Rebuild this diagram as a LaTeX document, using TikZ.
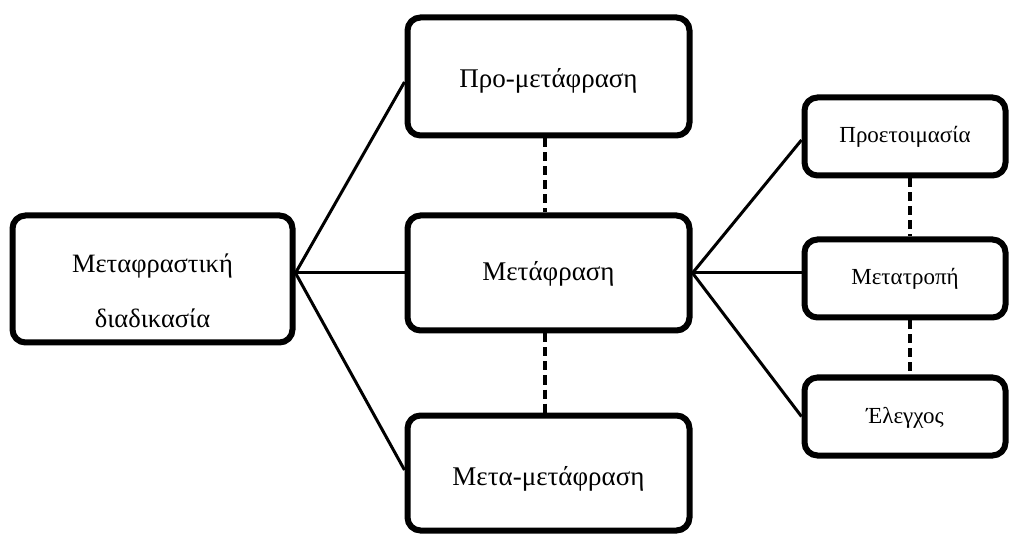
\documentclass[tikz,border=0pt]{standalone}
\usepackage{fontspec}
\setmainfont{Liberation Serif}
\begin{document}
\begin{tikzpicture}[x=1pt,y=-1pt,
  box/.style={draw=black,line width=6pt,rounded corners=13pt,fill=white,inner sep=0pt,align=center},
  bigbox/.style={box,minimum width=282pt,font=\fontsize{27}{32}\selectfont},
  smallbox/.style={box,minimum width=201pt,minimum height=78pt,font=\fontsize{23}{27}\selectfont,text height=13pt,text depth=0pt},
  conn/.style={line width=3pt},
  dashconn/.style={line width=4pt,dash pattern=on 9pt off 5pt}
]
\useasboundingbox (0,0) rectangle (1009,534);
\node[box,minimum width=280pt,minimum height=127pt,font=\fontsize{26.5}{55}\selectfont,text height=98pt,text depth=0pt] (L) at (152.5,279) {Μεταφραστική\\διαδικασία};
\node[bigbox,minimum height=118pt,text height=23pt,text depth=0pt] (P) at (548.5,76.5) {Προ-μετάφραση};
\node[bigbox,minimum height=115pt,text height=16pt,text depth=0pt] (M) at (548.5,273) {Μετάφραση};
\node[bigbox,minimum height=115pt,text height=24pt,text depth=0pt] (B) at (548.5,473) {Μετα-μετάφραση};
\node[smallbox] (R1) at (905,136.5) {Προετοιμασία};
\node[smallbox] (R2) at (905,278.5) {Μετατροπή};
\node[smallbox] (R3) at (905,416.5) {Έλεγχος};
\draw[conn] ([yshift=6pt]L.east) -- ([yshift=-5.5pt]P.west);
\draw[conn] ([yshift=6pt]L.east) -- (M.west);
\draw[conn] ([yshift=6pt]L.east) -- ([yshift=3pt]B.west);
\draw[conn] (M.east) -- ([yshift=-3.5pt]R1.west);
\draw[conn] (M.east) -- ([yshift=5.5pt]R2.west);
\draw[conn] (M.east) -- (R3.west);
\draw[dashconn] ([xshift=-3.5pt]P.south) -- ([xshift=-3.5pt]M.north);
\draw[dashconn] ([xshift=-3.5pt]M.south) -- ([xshift=-3.5pt]B.north);
\draw[dashconn] ([xshift=5pt]R1.south) -- ([xshift=5pt]R2.north);
\draw[dashconn] ([xshift=5pt]R2.south) -- ([xshift=5pt]R3.north);
\end{tikzpicture}
\end{document}
